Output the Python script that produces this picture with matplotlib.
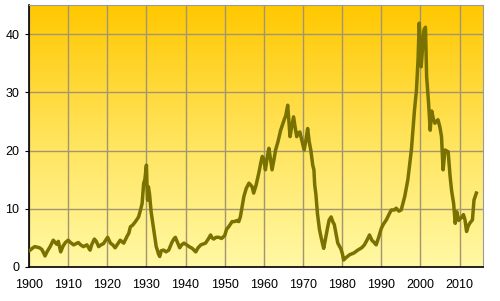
import numpy as np
import matplotlib.pyplot as plt
from matplotlib.colors import LinearSegmentedColormap

# Values (year, ratio)
years = [1900.0, 1900.3, 1901.0, 1901.5, 1902.7, 1903.3, 1904.1, 1904.6, 1905.4, 1906.2,
         1906.6, 1907.1, 1907.5, 1908.1, 1908.7, 1909.3, 1910.0, 1910.6, 1911.4, 1912.0,
         1912.6, 1913.2, 1913.9, 1914.8, 1915.6, 1916.0, 1916.7, 1917.2, 1917.8, 1918.4,
         1919.0, 1919.5, 1920.1, 1920.8, 1921.4, 1922.0, 1922.6, 1923.3, 1924.2, 1925.0,
         1925.5, 1925.9, 1926.5, 1927.2, 1928.0, 1928.5, 1928.9, 1929.3, 1929.6, 1930.0,
         1930.2, 1930.3, 1930.5, 1930.8, 1931.2, 1931.5, 1932.1, 1932.5, 1932.8, 1933.1,
         1933.4, 1933.8, 1934.4, 1935.0, 1935.7, 1936.5, 1937.0, 1937.4, 1937.9, 1938.5,
         1939.0, 1939.6, 1940.3, 1940.9, 1941.7, 1942.6, 1943.2, 1943.9, 1945.1, 1945.8,
         1946.4, 1946.8, 1947.2, 1947.8, 1948.5, 1949.2, 1950.0, 1950.5, 1951.0, 1951.9,
         1952.5, 1953.2, 1953.6, 1954.0, 1954.5, 1954.9, 1955.5, 1956.2, 1957.0, 1957.4,
         1958.0, 1958.7, 1959.2, 1959.6, 1960.0, 1960.4, 1960.9, 1961.3, 1961.7, 1962.1,
         1962.6, 1963.0, 1963.6, 1964.3, 1965.2, 1965.6, 1966.1, 1966.4, 1966.7, 1967.1,
         1967.6, 1968.0, 1968.4, 1968.8, 1969.2, 1969.8, 1970.3, 1970.8, 1971.2, 1971.6,
         1972.0, 1972.5, 1972.8, 1973.0, 1973.3, 1973.7, 1974.2, 1974.6, 1975.0, 1975.3,
         1975.8, 1976.3, 1976.7, 1977.2, 1977.6, 1978.0, 1978.5, 1978.9, 1979.3, 1979.7,
         1980.1, 1980.4, 1981.0, 1981.9, 1983.0, 1984.0, 1985.0, 1985.7, 1986.5, 1987.0,
         1987.6, 1988.2, 1988.7, 1989.3, 1990.0, 1990.5, 1991.3, 1992.1, 1992.6, 1993.4,
         1993.8, 1994.5, 1995.1, 1996.0, 1996.8, 1997.7, 1998.5, 1999.0, 1999.4, 1999.7,
         2000.0, 2000.2, 2000.6, 2000.9, 2001.3, 2001.6, 2002.1, 2002.5, 2002.9, 2003.3,
         2003.7, 2004.5, 2005.0, 2005.4, 2005.8, 2006.3, 2007.1, 2007.6, 2008.0, 2008.5,
         2008.9, 2009.3, 2009.8, 2010.6, 2011.0, 2011.4, 2011.8, 2012.2, 2012.6, 2013.3,
         2013.7, 2014.3]
values = [2.8, 2.9, 3.3, 3.5, 3.3, 3.0, 1.9, 2.6, 3.5, 4.6,
          4.3, 3.9, 4.4, 2.6, 3.6, 4.2, 4.6, 4.2, 3.8, 4.0,
          4.2, 3.8, 3.5, 3.8, 2.9, 3.8, 4.8, 4.4, 3.5, 3.8,
          4.0, 4.5, 5.1, 4.1, 3.8, 3.3, 3.9, 4.6, 4.1, 5.2,
          5.8, 6.9, 7.2, 7.8, 8.6, 9.8, 10.9, 14.4, 15.0, 17.5,
          13.0, 11.5, 13.8, 12.5, 9.5, 8.1, 5.2, 3.5, 2.9, 2.2,
          1.8, 2.8, 2.9, 2.6, 2.9, 4.2, 4.8, 5.1, 4.3, 3.3,
          3.8, 4.1, 3.8, 3.5, 3.2, 2.6, 3.3, 3.8, 4.1, 4.8,
          5.5, 5.0, 4.8, 5.1, 5.1, 4.9, 5.4, 6.5, 6.9, 7.8,
          7.8, 8.0, 7.8, 8.6, 10.5, 12.1, 13.5, 14.4, 13.8, 12.7,
          14.0, 16.1, 17.8, 19.0, 18.5, 16.7, 19.0, 20.4, 18.5, 16.7,
          18.5, 20.1, 21.5, 23.5, 25.3, 26.0, 27.8, 25.0, 22.4, 24.0,
          25.8, 24.0, 22.4, 23.0, 23.2, 21.5, 20.1, 22.0, 23.8, 21.5,
          20.1, 17.5, 16.7, 14.1, 12.5, 9.2, 6.5, 5.2, 4.0, 3.2,
          5.0, 6.8, 8.1, 8.6, 7.8, 7.3, 5.5, 4.1, 3.6, 3.1,
          2.2, 1.2, 1.6, 2.1, 2.4, 2.9, 3.3, 3.8, 4.8, 5.5,
          4.6, 4.2, 3.8, 5.0, 6.6, 7.3, 8.1, 9.2, 9.8, 9.8,
          10.1, 9.6, 9.8, 12.1, 15.0, 20.1, 27.0, 30.4, 35.6, 41.9,
          38.0, 34.4, 38.0, 40.7, 41.2, 32.7, 28.1, 23.5, 26.8, 25.5,
          24.7, 25.3, 24.0, 22.4, 16.7, 20.1, 19.8, 15.5, 13.0, 10.9,
          7.5, 9.5, 8.0, 8.6, 9.0, 8.1, 6.1, 7.0, 7.5, 8.1,
          11.5, 12.7]

x_ticks = list(range(1900, 2011, 10))
y_ticks = [0, 10, 20, 30, 40]

plt.rcParams['font.family'] = ['Liberation Sans', 'DejaVu Sans']

fig = plt.figure(figsize=(5, 3.01), dpi=100)
ax = fig.add_axes([0.058, 0.113, 0.908, 0.870])

# yellow gradient background
cmap = LinearSegmentedColormap.from_list('bg', ['#fff8a4', '#ffe35a', '#ffc800'])
grad = np.linspace(0, 1, 256).reshape(-1, 1)
ax.imshow(grad, cmap=cmap, aspect='auto', origin='lower',
          extent=[0, 1, 0, 1], transform=ax.transAxes, zorder=0)

ax.plot(years, values, color='#7a7200', lw=2.5, zorder=3)

ax.set_xlim(1900, 2016)
ax.set_ylim(0, 45)
ax.set_xticks(x_ticks)
ax.set_yticks(y_ticks)
ax.grid(True, color='#a39570', lw=1.0, zorder=1)
for line in ax.get_xgridlines() + ax.get_ygridlines():
    line.set_zorder(1)

ax.tick_params(axis='both', labelsize=9, length=3, color='black')
ax.tick_params(axis='x', length=0, pad=9)
ax.tick_params(axis='y', pad=4)
for s in ['top', 'right']:
    ax.spines[s].set_color('#9a9a9a')
for s in ['left', 'bottom']:
    ax.spines[s].set_color('black')
    ax.spines[s].set_linewidth(1.2)

fig.savefig('out.png', dpi=100)
